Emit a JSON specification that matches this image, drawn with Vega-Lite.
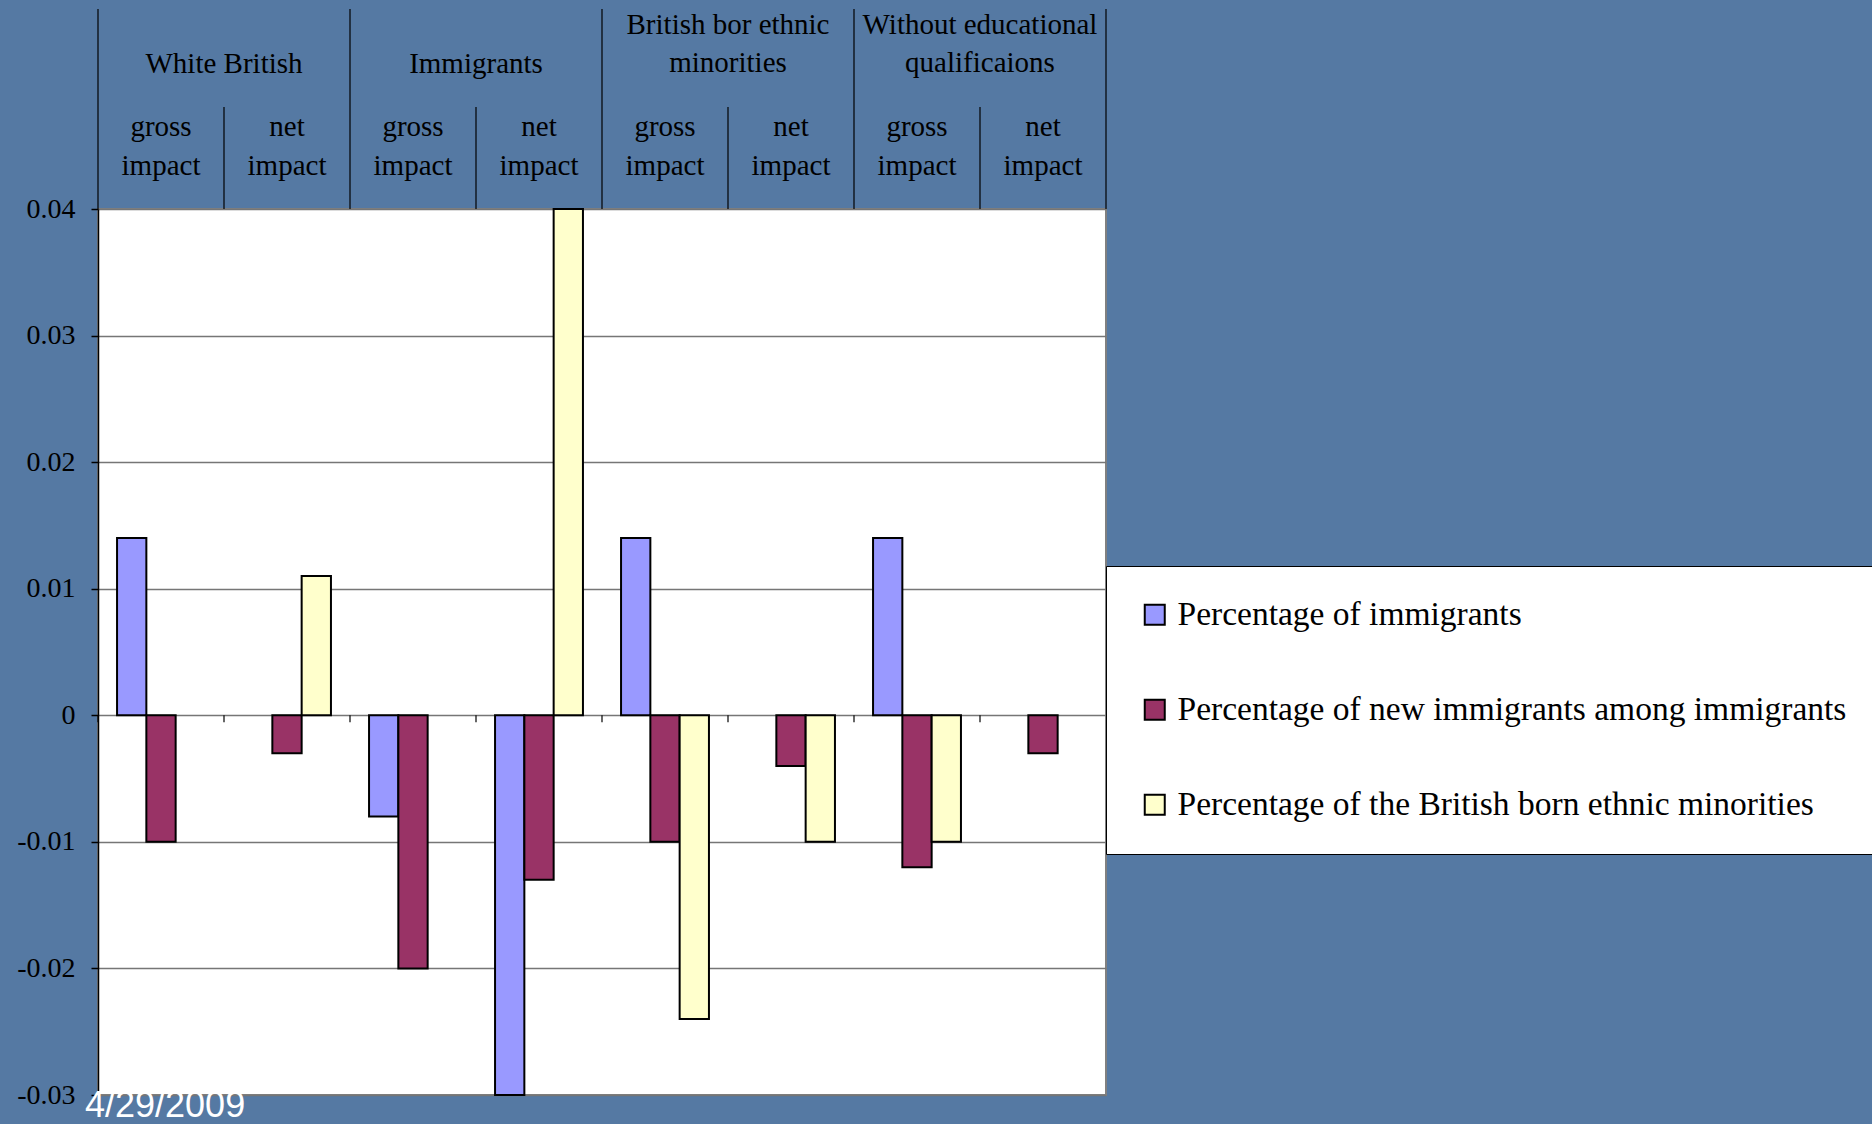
{
  "$schema": "https://vega.github.io/schema/vega-lite/v6.json",
  "width": 1008,
  "height": 886,
  "autosize": {"type": "none"},
  "padding": {"left": 98, "top": 209, "right": 766, "bottom": 29},
  "background": "#5579a3",
  "title": {
    "text": "4/29/2009",
    "orient": "bottom",
    "anchor": "start",
    "frame": "group",
    "font": "Liberation Sans",
    "fontSize": 36,
    "fontWeight": "normal",
    "color": "white",
    "offset": -20,
    "dx": -13
  },
  "datasets": {
    "bars": [
      {"cat": "White British|gross impact", "series": "Percentage of immigrants", "value": 0.014},
      {"cat": "White British|gross impact", "series": "Percentage of new immigrants among immigrants", "value": -0.010},
      {"cat": "White British|net impact", "series": "Percentage of new immigrants among immigrants", "value": -0.003},
      {"cat": "White British|net impact", "series": "Percentage of the British born ethnic minorities", "value": 0.011},
      {"cat": "Immigrants|gross impact", "series": "Percentage of immigrants", "value": -0.008},
      {"cat": "Immigrants|gross impact", "series": "Percentage of new immigrants among immigrants", "value": -0.020},
      {"cat": "Immigrants|net impact", "series": "Percentage of immigrants", "value": -0.030},
      {"cat": "Immigrants|net impact", "series": "Percentage of new immigrants among immigrants", "value": -0.013},
      {"cat": "Immigrants|net impact", "series": "Percentage of the British born ethnic minorities", "value": 0.040},
      {"cat": "British bor ethnic minorities|gross impact", "series": "Percentage of immigrants", "value": 0.014},
      {"cat": "British bor ethnic minorities|gross impact", "series": "Percentage of new immigrants among immigrants", "value": -0.010},
      {"cat": "British bor ethnic minorities|gross impact", "series": "Percentage of the British born ethnic minorities", "value": -0.024},
      {"cat": "British bor ethnic minorities|net impact", "series": "Percentage of new immigrants among immigrants", "value": -0.004},
      {"cat": "British bor ethnic minorities|net impact", "series": "Percentage of the British born ethnic minorities", "value": -0.010},
      {"cat": "Without educational qualificaions|gross impact", "series": "Percentage of immigrants", "value": 0.014},
      {"cat": "Without educational qualificaions|gross impact", "series": "Percentage of new immigrants among immigrants", "value": -0.012},
      {"cat": "Without educational qualificaions|gross impact", "series": "Percentage of the British born ethnic minorities", "value": -0.010},
      {"cat": "Without educational qualificaions|net impact", "series": "Percentage of new immigrants among immigrants", "value": -0.003}
    ],
    "cats": [
      {"cat": "White British|gross impact", "measure": "gross", "heading": "White British", "lines": 1},
      {"cat": "White British|net impact", "measure": "net", "heading": "White British", "lines": 1},
      {"cat": "Immigrants|gross impact", "measure": "gross", "heading": "Immigrants", "lines": 1},
      {"cat": "Immigrants|net impact", "measure": "net", "heading": "Immigrants", "lines": 1},
      {"cat": "British bor ethnic minorities|gross impact", "measure": "gross", "heading": "British bor ethnic\nminorities", "lines": 2},
      {"cat": "British bor ethnic minorities|net impact", "measure": "net", "heading": "British bor ethnic\nminorities", "lines": 2},
      {"cat": "Without educational qualificaions|gross impact", "measure": "gross", "heading": "Without educational\nqualificaions", "lines": 2},
      {"cat": "Without educational qualificaions|net impact", "measure": "net", "heading": "Without educational\nqualificaions", "lines": 2}
    ]
  },
  "layer": [
    {
      "data": {"name": "bars"},
      "mark": {"type": "bar", "stroke": "black", "strokeWidth": 2},
      "encoding": {
        "x": {
          "field": "cat",
          "type": "nominal",
          "scale": {
            "domain": [
              "White British|gross impact", "White British|net impact",
              "Immigrants|gross impact", "Immigrants|net impact",
              "British bor ethnic minorities|gross impact", "British bor ethnic minorities|net impact",
              "Without educational qualificaions|gross impact", "Without educational qualificaions|net impact"
            ],
            "paddingInner": 0,
            "paddingOuter": 0
          },
          "axis": {
            "orient": "top",
            "title": null,
            "ticks": false,
            "domain": false,
            "grid": false,
            "labelAngle": 0,
            "labelFont": "Liberation Serif",
            "labelFontSize": 29,
            "labelColor": "black",
            "labelLineHeight": 39,
            "labelPadding": 68,
            "labelExpr": "split(split(datum.value, '|')[1], ' ')"
          }
        },
        "xOffset": {
          "field": "series",
          "type": "nominal",
          "scale": {
            "domain": [
              "Percentage of immigrants",
              "Percentage of new immigrants among immigrants",
              "Percentage of the British born ethnic minorities"
            ],
            "paddingInner": 0,
            "paddingOuter": 0.65
          }
        },
        "y": {
          "field": "value",
          "type": "quantitative",
          "scale": {"domain": [-0.03, 0.04], "nice": false, "zero": false},
          "axis": {
            "title": null,
            "values": [-0.03, -0.02, -0.01, 0, 0.01, 0.02, 0.03, 0.04],
            "labelExpr": "datum.value == 0 ? '0' : (datum.value < 0 ? '-' : '') + format(abs(datum.value), '.2f')",
            "tickSize": 7,
            "tickColor": "black",
            "tickWidth": 1.5,
            "domainColor": "black",
            "domainWidth": 1.5,
            "grid": true,
            "gridColor": "#767676",
            "gridWidth": 1.5,
            "labelFont": "Liberation Serif",
            "labelFontSize": 28,
            "labelColor": "black",
            "labelPadding": 16
          }
        },
        "color": {
          "field": "series",
          "type": "nominal",
          "scale": {
            "domain": [
              "Percentage of immigrants",
              "Percentage of new immigrants among immigrants",
              "Percentage of the British born ethnic minorities"
            ],
            "range": ["#9999ff", "#993366", "#ffffcc"]
          },
          "legend": {
            "title": null,
            "orient": "none",
            "legendX": 1008,
            "legendY": 357,
            "direction": "vertical",
            "fillColor": "white",
            "strokeColor": "black",
            "padding": 32,
            "symbolOffset": 0,
            "symbolType": "square",
            "symbolSize": 400,
            "symbolStrokeColor": "black",
            "symbolStrokeWidth": 2,
            "symbolOpacity": 1,
            "labelFont": "Liberation Serif",
            "labelFontSize": 33.5,
            "labelColor": "black",
            "labelLimit": 0,
            "labelOffset": 6,
            "rowPadding": 60
          }
        }
      }
    },
    {
      "data": {"name": "cats"},
      "mark": {"type": "rule", "color": "black", "strokeWidth": 1.2},
      "encoding": {
        "x": {"field": "cat", "type": "nominal", "bandPosition": 0},
        "y": {"datum": 0, "type": "quantitative"},
        "y2": {"datum": -0.00055}
      }
    },
    {
      "data": {"name": "cats"},
      "transform": [{"filter": "datum.measure == 'gross'"}],
      "mark": {"type": "rule", "color": "black", "strokeWidth": 1.2},
      "encoding": {
        "x": {"field": "cat", "type": "nominal", "bandPosition": 0},
        "y": {"datum": 0.04, "type": "quantitative"},
        "y2": {"datum": 0.0558}
      }
    },
    {
      "data": {"name": "cats"},
      "transform": [{"filter": "datum.cat == 'Without educational qualificaions|net impact'"}],
      "mark": {"type": "rule", "color": "black", "strokeWidth": 1.2},
      "encoding": {
        "x": {"field": "cat", "type": "nominal", "bandPosition": 1},
        "y": {"datum": 0.04, "type": "quantitative"},
        "y2": {"datum": 0.0558}
      }
    },
    {
      "data": {"name": "cats"},
      "transform": [{"filter": "datum.measure == 'net'"}],
      "mark": {"type": "rule", "color": "black", "strokeWidth": 1.2},
      "encoding": {
        "x": {"field": "cat", "type": "nominal", "bandPosition": 0},
        "y": {"datum": 0.04, "type": "quantitative"},
        "y2": {"datum": 0.04806}
      }
    },
    {
      "data": {"name": "cats"},
      "transform": [{"filter": "datum.measure == 'net' && datum.lines == 1"}],
      "mark": {
        "type": "text",
        "font": "Liberation Serif",
        "fontSize": 29,
        "color": "black",
        "align": "center",
        "baseline": "bottom",
        "lineBreak": "\n",
        "lineHeight": 38
      },
      "encoding": {
        "x": {"field": "cat", "type": "nominal", "bandPosition": 0},
        "y": {"datum": 0.0503, "type": "quantitative"},
        "text": {"field": "heading"}
      }
    },
    {
      "data": {"name": "cats"},
      "transform": [{"filter": "datum.measure == 'net' && datum.lines == 2"}],
      "mark": {
        "type": "text",
        "font": "Liberation Serif",
        "fontSize": 29,
        "color": "black",
        "align": "center",
        "baseline": "bottom",
        "lineBreak": "\n",
        "lineHeight": 38
      },
      "encoding": {
        "x": {"field": "cat", "type": "nominal", "bandPosition": 0},
        "y": {"datum": 0.05335, "type": "quantitative"},
        "text": {"field": "heading"}
      }
    }
  ],
  "config": {
    "view": {"fill": "white", "stroke": "#808080", "strokeWidth": 2}
  }
}
